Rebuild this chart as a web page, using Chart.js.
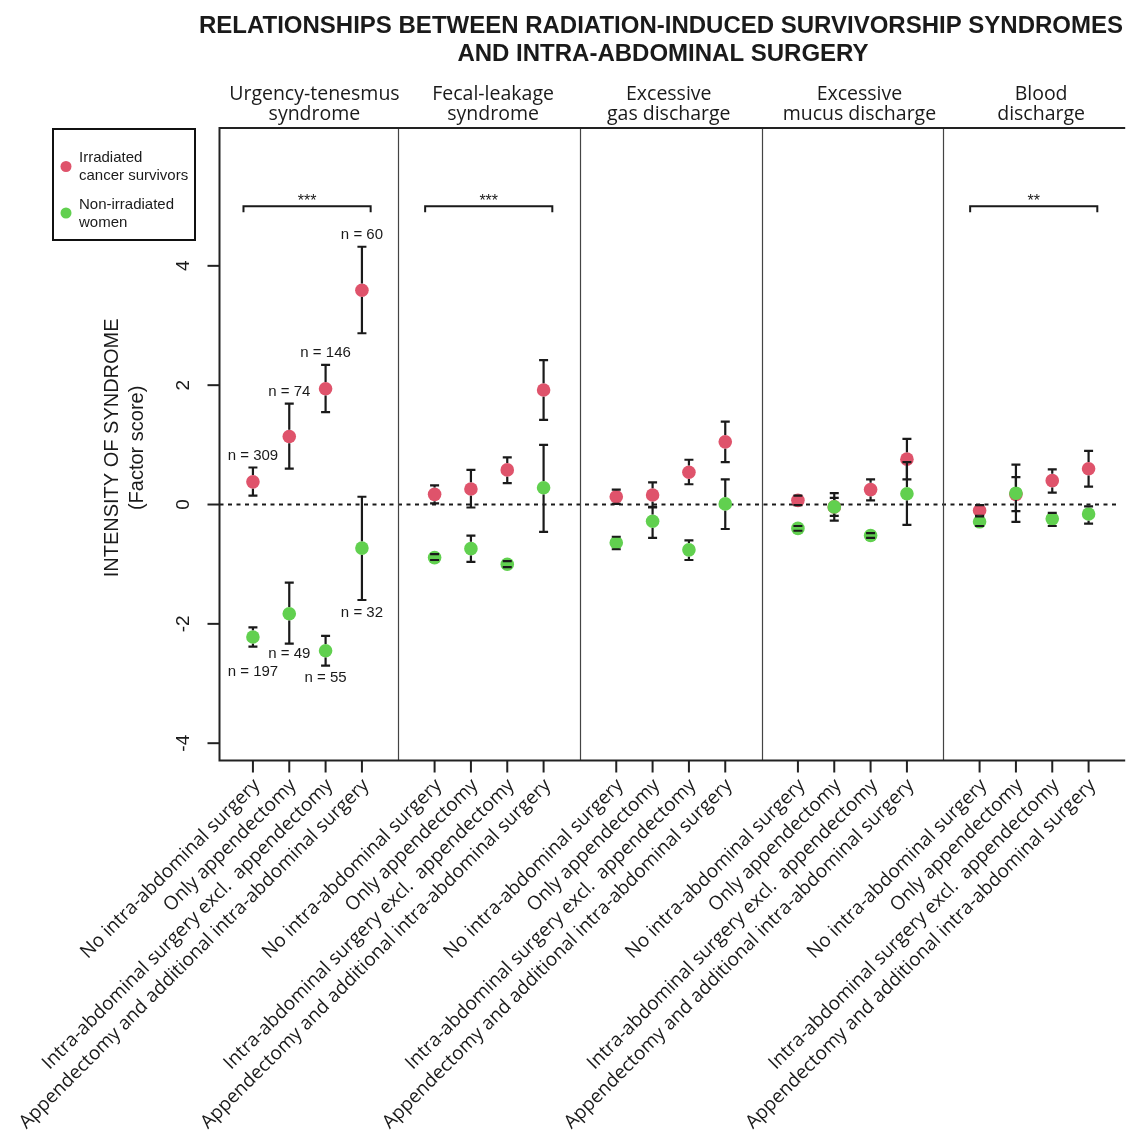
<!DOCTYPE html>
<html><head><meta charset="utf-8">
<script src="https://cdn.jsdelivr.net/npm/chart.js@4/dist/chart.umd.min.js"></script>
<style>html,body{margin:0;padding:0;background:#fff;overflow:hidden}canvas{display:block}</style>
</head><body>
<canvas id="c" width="1127" height="1137"></canvas>
<script>
// ---------------- DATA ----------------
const titleLines = ["RELATIONSHIPS BETWEEN RADIATION-INDUCED SURVIVORSHIP SYNDROMES", "AND INTRA-ABDOMINAL SURGERY"];
const syndromes = [["Urgency-tenesmus", "syndrome"], ["Fecal-leakage", "syndrome"], ["Excessive", "gas discharge"], ["Excessive", "mucus discharge"], ["Blood", "discharge"]];
const surgeryGroups = ["No intra-abdominal surgery", "Only appendectomy", "Intra-abdominal surgery excl.  appendectomy", "Appendectomy and additional intra-abdominal surgery"];
const seriesNames = [["Irradiated", "cancer survivors"], ["Non-irradiated", "women"]];
const yTicks = [-4, -2, 0, 2, 4];
const yTitle = ["INTENSITY OF SYNDROME", "(Factor score)"];

// 20 values each: 5 syndromes x 4 surgery groups
const irrMean = [0.38, 1.14, 1.94, 3.59, 0.17, 0.26, 0.58, 1.92, 0.13, 0.16, 0.54, 1.05, 0.07, -0.04, 0.25, 0.76, -0.10, 0.17, 0.40, 0.60];
const irrLow  = [0.15, 0.60, 1.55, 2.87, 0.02, -0.05, 0.36, 1.42, 0.01, -0.04, 0.34, 0.71, -0.01, -0.27, 0.07, 0.42, -0.19, -0.11, 0.20, 0.30];
const irrHigh = [0.62, 1.69, 2.34, 4.32, 0.32, 0.58, 0.79, 2.42, 0.25, 0.37, 0.75, 1.39, 0.15, 0.19, 0.42, 1.10, -0.01, 0.46, 0.59, 0.90];
const nonMean = [-2.22, -1.83, -2.45, -0.73, -0.89, -0.74, -1.00, 0.28, -0.64, -0.28, -0.76, 0.01, -0.40, -0.04, -0.52, 0.18, -0.29, 0.19, -0.24, -0.16];
const nonLow  = [-2.38, -2.33, -2.70, -1.60, -0.93, -0.96, -1.05, -0.46, -0.75, -0.56, -0.93, -0.41, -0.44, -0.19, -0.56, -0.34, -0.36, -0.29, -0.36, -0.32];
const nonHigh = [-2.06, -1.31, -2.20, 0.13, -0.83, -0.52, -0.95, 1.00, -0.54, -0.05, -0.60, 0.42, -0.36, 0.11, -0.48, 0.71, -0.20, 0.67, -0.14, -0.03];
const irrN = ["n = 309", "n = 74", "n = 146", "n = 60"];
const nonN = ["n = 197", "n = 49", "n = 55", "n = 32"];
const sigPanels = [0, 1, 4];
const sigLabels = ["***", "***", "**"];
const sigLevel = 5;

// ---------------- LAYOUT / STYLE ----------------
const RED = '#DF536B', GREEN = '#61D04F', INK = '#1a1a1a';
const PANEL = 5;
const xPos = [];
for (let s = 0; s < syndromes.length; s++) for (let g = 0; g < surgeryGroups.length; g++) xPos.push(s * PANEL + g + 1);
const nOffsetsIrr = [-12, -12, -12, -12];
const nOffsetsNon = [25, 10, 12, 13];
const headerShift = [7, 4, -2, 7, 7];
const PR = 6.8;

const errorBars = [
  { low: irrLow, high: irrHigh },
  { low: nonLow, high: nonHigh }
];

const decor = {
  id: 'decor',
  beforeDatasetsDraw(chart) {
    const { ctx, chartArea: a, scales: { x, y } } = chart;
    ctx.save();
    // zero dashed line
    const y0 = y.getPixelForValue(0);
    ctx.strokeStyle = INK; ctx.lineWidth = 2; ctx.setLineDash([4, 4.5]);
    ctx.beginPath(); ctx.moveTo(a.left, y0); ctx.lineTo(a.right, y0); ctx.stroke();
    ctx.setLineDash([]);
    // panel separators
    ctx.strokeStyle = '#444'; ctx.lineWidth = 1.2;
    for (let s = 1; s < syndromes.length; s++) {
      const px = Math.round(x.getPixelForValue(s * PANEL)) + 0.5;
      ctx.beginPath(); ctx.moveTo(px, a.top); ctx.lineTo(px, a.bottom); ctx.stroke();
    }
    // frame
    ctx.strokeStyle = '#222'; ctx.lineWidth = 2;
    ctx.beginPath();
    ctx.moveTo(a.right + 5, a.top); ctx.lineTo(a.left, a.top); ctx.lineTo(a.left, a.bottom); ctx.lineTo(a.right + 5, a.bottom);
    ctx.stroke();
    // y ticks + labels
    ctx.fillStyle = INK; ctx.font = '19px "Liberation Sans", Arial, sans-serif';
    ctx.textAlign = 'center'; ctx.textBaseline = 'middle';
    yTicks.forEach(t => {
      const py = y.getPixelForValue(t);
      ctx.beginPath(); ctx.moveTo(a.left - 12, py); ctx.lineTo(a.left, py); ctx.stroke();
      ctx.save(); ctx.translate(a.left - 36, py); ctx.rotate(-Math.PI / 2); ctx.fillText(String(t), 0, 0); ctx.restore();
    });
    // y title
    ctx.save(); ctx.translate(112, y.getPixelForValue(0.95)); ctx.rotate(-Math.PI / 2);
    ctx.font = '20px "Liberation Sans", Arial, sans-serif';
    ctx.fillText(yTitle[0], 0, 0);
    ctx.fillText(yTitle[1], 0, 25);
    ctx.restore();
    // x ticks + labels
    ctx.font = '19px "Open Sans", sans-serif';
    xPos.forEach((v, i) => {
      const px = x.getPixelForValue(v);
      ctx.beginPath(); ctx.moveTo(px, a.bottom); ctx.lineTo(px, a.bottom + 12); ctx.stroke();
      ctx.save(); ctx.translate(px + 4, a.bottom + 22); ctx.rotate(-Math.PI / 4);
      ctx.textAlign = 'right'; ctx.textBaseline = 'middle';
      ctx.fillText(surgeryGroups[i % surgeryGroups.length], 0, 0);
      ctx.restore();
    });
    // panel headers
    ctx.font = '19.5px "Open Sans", sans-serif'; ctx.textAlign = 'center'; ctx.textBaseline = 'middle';
    syndromes.forEach((lines, s) => {
      const px = x.getPixelForValue(s * PANEL + 2.5) + headerShift[s];
      ctx.fillText(lines[0], px, 94);
      ctx.fillText(lines[1], px, 114);
    });
    // title
    ctx.font = 'bold 24px "Liberation Sans", Arial, sans-serif';
    ctx.fillText(titleLines[0], 661, 26);
    ctx.fillText(titleLines[1], 663, 54);
    // significance brackets
    ctx.lineWidth = 2; ctx.strokeStyle = INK;
    sigPanels.forEach((s, k) => {
      const x1 = x.getPixelForValue(s * PANEL + 0.74), x2 = x.getPixelForValue(s * PANEL + 4.24);
      const by = y.getPixelForValue(sigLevel), bt = y.getPixelForValue(sigLevel - 0.1);
      ctx.beginPath(); ctx.moveTo(x1, bt); ctx.lineTo(x1, by); ctx.lineTo(x2, by); ctx.lineTo(x2, bt); ctx.stroke();
      ctx.font = '16px "Liberation Sans", Arial, sans-serif';
      ctx.fillText(sigLabels[k], (x1 + x2) / 2, by - 5);
    });
    // legend
    ctx.lineWidth = 2; ctx.strokeStyle = '#111';
    ctx.strokeRect(53, 129, 142, 111);
    ctx.font = '15px "Liberation Sans", Arial, sans-serif'; ctx.textAlign = 'left';
    [[RED, 166.5, 158, 176], [GREEN, 213, 205, 223]].forEach((d, k) => {
      ctx.fillStyle = d[0]; ctx.beginPath(); ctx.arc(66, d[1], 5.5, 0, Math.PI * 2); ctx.fill();
      ctx.fillStyle = INK;
      ctx.fillText(seriesNames[k][0], 79, d[2]);
      ctx.fillText(seriesNames[k][1], 79, d[3]);
    });
    ctx.restore();
  },
  afterDatasetDraw(chart, args) {
    const { ctx, scales: { x, y } } = chart;
    const eb = errorBars[args.index];
    const means = chart.data.datasets[args.index].data;
    ctx.save();
    ctx.strokeStyle = INK; ctx.lineWidth = 2.2;
    means.forEach((p, i) => {
      const px = x.getPixelForValue(p.x);
      const pm = y.getPixelForValue(p.y);
      const ph = y.getPixelForValue(eb.high[i]);
      const pl = y.getPixelForValue(eb.low[i]);
      ctx.beginPath();
      if (ph < pm - PR) { ctx.moveTo(px, pm - PR); ctx.lineTo(px, ph); }
      if (pl > pm + PR) { ctx.moveTo(px, pm + PR); ctx.lineTo(px, pl); }
      ctx.moveTo(px - 4.5, ph); ctx.lineTo(px + 4.5, ph);
      ctx.moveTo(px - 4.5, pl); ctx.lineTo(px + 4.5, pl);
      ctx.stroke();
    });
    ctx.restore();
  },
  afterDatasetsDraw(chart) {
    const { ctx, scales: { x, y } } = chart;
    ctx.save();
    ctx.fillStyle = INK; ctx.font = '15px "Liberation Sans", Arial, sans-serif';
    ctx.textAlign = 'center'; ctx.textBaseline = 'middle';
    for (let g = 0; g < surgeryGroups.length; g++) {
      const px = x.getPixelForValue(xPos[g]);
      ctx.fillText(irrN[g], px, y.getPixelForValue(irrHigh[g]) + nOffsetsIrr[g]);
      ctx.fillText(nonN[g], px, y.getPixelForValue(nonLow[g]) + nOffsetsNon[g]);
    }
    ctx.restore();
  }
};

new Chart(document.getElementById('c'), {
  type: 'scatter',
  data: {
    datasets: [
      { label: seriesNames[0].join(' '), data: irrMean.map((v, i) => ({ x: xPos[i], y: v })), backgroundColor: RED, borderWidth: 0, pointRadius: PR, pointHoverRadius: PR, order: 2 },
      { label: seriesNames[1].join(' '), data: nonMean.map((v, i) => ({ x: xPos[i], y: v })), backgroundColor: GREEN, borderWidth: 0, pointRadius: PR, pointHoverRadius: PR, order: 1 }
    ]
  },
  options: {
    responsive: false, animation: false, events: [],
    layout: { padding: { left: 219.5, top: 128, right: 0, bottom: 376.5 } },
    scales: {
      x: { type: 'linear', min: 0.08, max: 24.87, display: false },
      y: { type: 'linear', min: -4.29, max: 6.31, display: false }
    },
    plugins: { legend: { display: false }, tooltip: { enabled: false } }
  },
  plugins: [decor]
});
</script>
</body></html>
